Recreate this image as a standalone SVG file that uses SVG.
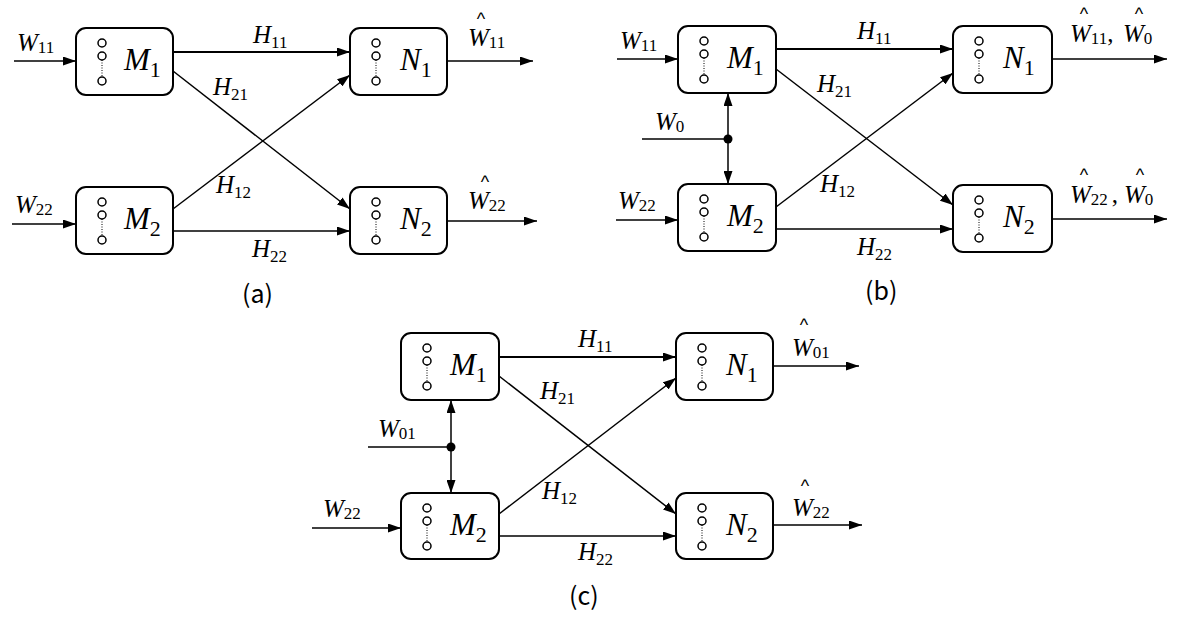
<svg xmlns="http://www.w3.org/2000/svg" width="1193" height="618" viewBox="0 0 1193 618">
<style>
.ln{stroke:#000;stroke-width:1.5;fill:none}
.bx{fill:#fff;stroke:#000;stroke-width:2}
.c{fill:#fff;stroke:#000;stroke-width:1.5}
.dt{stroke:#000;stroke-width:1;stroke-dasharray:1 1.5}
.mt{font-family:"Liberation Serif",serif;font-style:italic;font-size:31px}
.ms{font-style:normal;font-size:22px}
.h{font-family:"Liberation Serif",serif;font-style:italic;font-size:25px}
.hs{font-style:normal;font-size:17px}
.w{font-family:"Liberation Serif",serif;font-style:italic;font-size:25px}
.ws{font-style:normal;font-size:17px}
.hat{font-family:"Liberation Sans",sans-serif;font-style:normal;font-size:18px;text-anchor:middle}
.cap{font-family:"Noto Sans CJK SC","Noto Sans",sans-serif;font-size:25px}
</style>
<defs>
<marker id="ar" markerUnits="userSpaceOnUse" markerWidth="13" markerHeight="9" refX="13" refY="4.5" orient="auto">
<path d="M0,0 L13,4.5 L0,9 z" fill="#000"/>
</marker>
<g id="dots">
<circle class="c" cx="26" cy="15" r="4"/>
<circle class="c" cx="26" cy="28" r="4"/>
<line class="dt" x1="26" y1="32" x2="26" y2="49"/>
<circle class="c" cx="26" cy="53" r="4"/>
</g>
</defs>

<!-- connectors -->
<g id="connectors">
<!-- (a) -->
<line class="ln" x1="14" y1="61" x2="76" y2="61" marker-end="url(#ar)"/>
<line class="ln" x1="12" y1="224" x2="76" y2="224" marker-end="url(#ar)"/>
<line class="ln" x1="173" y1="52" x2="350" y2="52" marker-end="url(#ar)" style="stroke-width:2"/>
<line class="ln" x1="173" y1="71" x2="350" y2="209" marker-end="url(#ar)"/>
<line class="ln" x1="173" y1="209" x2="350" y2="75" marker-end="url(#ar)"/>
<line class="ln" x1="173" y1="231" x2="350" y2="231" marker-end="url(#ar)"/>
<line class="ln" x1="447" y1="61" x2="533" y2="61" marker-end="url(#ar)"/>
<line class="ln" x1="447" y1="221" x2="537" y2="221" marker-end="url(#ar)"/>
<!-- (b) -->
<line class="ln" x1="617" y1="59" x2="678" y2="59" marker-end="url(#ar)"/>
<line class="ln" x1="616" y1="220" x2="678" y2="220" marker-end="url(#ar)"/>
<line class="ln" x1="642" y1="139" x2="728" y2="139"/>
<line class="ln" x1="728" y1="139" x2="728" y2="93" marker-end="url(#ar)"/>
<line class="ln" x1="728" y1="139" x2="728" y2="184" marker-end="url(#ar)"/>
<circle cx="728" cy="139" r="4.5" fill="#000"/>
<line class="ln" x1="776" y1="49" x2="953" y2="49" marker-end="url(#ar)" style="stroke-width:2"/>
<line class="ln" x1="776" y1="69" x2="953" y2="205" marker-end="url(#ar)"/>
<line class="ln" x1="776" y1="207" x2="953" y2="73" marker-end="url(#ar)"/>
<line class="ln" x1="776" y1="229" x2="953" y2="229" marker-end="url(#ar)"/>
<line class="ln" x1="1052" y1="59" x2="1167" y2="59" marker-end="url(#ar)"/>
<line class="ln" x1="1052" y1="219" x2="1167" y2="219" marker-end="url(#ar)"/>
<!-- (c) -->
<line class="ln" x1="312" y1="528" x2="401" y2="528" marker-end="url(#ar)"/>
<line class="ln" x1="368" y1="447" x2="451" y2="447"/>
<line class="ln" x1="451" y1="447" x2="451" y2="400" marker-end="url(#ar)"/>
<line class="ln" x1="451" y1="447" x2="451" y2="493" marker-end="url(#ar)"/>
<circle cx="451" cy="447" r="4.5" fill="#000"/>
<line class="ln" x1="499" y1="357" x2="676" y2="357" marker-end="url(#ar)" style="stroke-width:2"/>
<line class="ln" x1="499" y1="376" x2="676" y2="514" marker-end="url(#ar)"/>
<line class="ln" x1="499" y1="514" x2="676" y2="378" marker-end="url(#ar)"/>
<line class="ln" x1="499" y1="536" x2="676" y2="536" marker-end="url(#ar)"/>
<line class="ln" x1="773" y1="366" x2="859" y2="366" marker-end="url(#ar)"/>
<line class="ln" x1="773" y1="525" x2="862" y2="525" marker-end="url(#ar)"/>
</g>

<!-- (a) nodes -->
<g id="a-M1"><rect class="bx" x="76" y="28" width="97" height="67" rx="10"/><use href="#dots" x="76" y="28"/><text class="mt" x="124" y="70">M<tspan class="ms" dy="7">1</tspan></text></g>
<g id="a-M2"><rect class="bx" x="76" y="187" width="97" height="67" rx="10"/><use href="#dots" x="76" y="187"/><text class="mt" x="124" y="229">M<tspan class="ms" dy="7">2</tspan></text></g>
<g id="a-N1"><rect class="bx" x="350" y="28" width="97" height="67" rx="10"/><use href="#dots" x="350" y="28"/><text class="mt" x="400" y="70">N<tspan class="ms" dy="7">1</tspan></text></g>
<g id="a-N2"><rect class="bx" x="350" y="187" width="97" height="67" rx="10"/><use href="#dots" x="350" y="187"/><text class="mt" x="400" y="229">N<tspan class="ms" dy="7">2</tspan></text></g>

<!-- (b) nodes -->
<g id="b-M1"><rect class="bx" x="678" y="26" width="98" height="67" rx="10"/><use href="#dots" x="678" y="26"/><text class="mt" x="727" y="68">M<tspan class="ms" dy="7">1</tspan></text></g>
<g id="b-M2"><rect class="bx" x="678" y="184" width="98" height="67" rx="10"/><use href="#dots" x="678" y="184"/><text class="mt" x="727" y="226">M<tspan class="ms" dy="7">2</tspan></text></g>
<g id="b-N1"><rect class="bx" x="953" y="26" width="99" height="67" rx="10"/><use href="#dots" x="953" y="26"/><text class="mt" x="1003" y="68">N<tspan class="ms" dy="7">1</tspan></text></g>
<g id="b-N2"><rect class="bx" x="953" y="185" width="99" height="67" rx="10"/><use href="#dots" x="953" y="185"/><text class="mt" x="1003" y="227">N<tspan class="ms" dy="7">2</tspan></text></g>

<!-- (c) nodes -->
<g id="c-M1"><rect class="bx" x="401" y="333" width="98" height="67" rx="10"/><use href="#dots" x="401" y="333"/><text class="mt" x="450" y="375">M<tspan class="ms" dy="7">1</tspan></text></g>
<g id="c-M2"><rect class="bx" x="401" y="493" width="98" height="66" rx="10"/><use href="#dots" x="401" y="493"/><text class="mt" x="450" y="535">M<tspan class="ms" dy="7">2</tspan></text></g>
<g id="c-N1"><rect class="bx" x="676" y="333" width="97" height="67" rx="10"/><use href="#dots" x="676" y="333"/><text class="mt" x="726" y="375">N<tspan class="ms" dy="7">1</tspan></text></g>
<g id="c-N2"><rect class="bx" x="676" y="493" width="97" height="66" rx="10"/><use href="#dots" x="676" y="493"/><text class="mt" x="726" y="535">N<tspan class="ms" dy="7">2</tspan></text></g>

<!-- labels (a) -->
<g id="labels-a">
<text class="w" x="17" y="51">W<tspan class="ws" dy="2">11</tspan></text>
<text class="w" x="15" y="213">W<tspan class="ws" dy="2">22</tspan></text>
<text class="w"><tspan class="hat" x="481" y="25">^</tspan><tspan x="468" y="46">W</tspan><tspan class="ws" dy="2">11</tspan></text>
<text class="w"><tspan class="hat" x="485" y="188">^</tspan><tspan x="468" y="209">W</tspan><tspan class="ws" dy="2">22</tspan></text>
<text class="h" x="253" y="43">H<tspan class="hs" dy="5">11</tspan></text>
<text class="h" x="213" y="95">H<tspan class="hs" dy="5">21</tspan></text>
<text class="h" x="216" y="193">H<tspan class="hs" dy="5">12</tspan></text>
<text class="h" x="252" y="257">H<tspan class="hs" dy="5">22</tspan></text>
<text class="cap" x="242" y="303">(a)</text>
</g>

<!-- labels (b) -->
<g id="labels-b">
<text class="w" x="620" y="49">W<tspan class="ws" dy="2">11</tspan></text>
<text class="w" x="618" y="209">W<tspan class="ws" dy="2">22</tspan></text>
<text class="w" x="655" y="130">W<tspan class="ws" dy="2">0</tspan></text>
<text class="w"><tspan class="hat" x="1084" y="20">^</tspan><tspan class="hat" x="1139" y="20">^</tspan><tspan x="1070" y="42">W</tspan><tspan class="ws" dy="2">11</tspan><tspan dy="-2" style="font-style:normal">,</tspan><tspan x="1123">W</tspan><tspan class="ws" dy="2">0</tspan></text>
<text class="w"><tspan class="hat" x="1084" y="181">^</tspan><tspan class="hat" x="1140" y="181">^</tspan><tspan x="1070" y="203">W</tspan><tspan class="ws" dy="2">22</tspan><tspan dy="-2" dx="4" style="font-style:normal">,</tspan><tspan x="1124">W</tspan><tspan class="ws" dy="2">0</tspan></text>
<text class="h" x="857" y="39">H<tspan class="hs" dy="5">11</tspan></text>
<text class="h" x="817" y="92">H<tspan class="hs" dy="5">21</tspan></text>
<text class="h" x="820" y="192">H<tspan class="hs" dy="5">12</tspan></text>
<text class="h" x="857" y="255">H<tspan class="hs" dy="5">22</tspan></text>
<text class="cap" x="865" y="300">(b)</text>
</g>

<!-- labels (c) -->
<g id="labels-c">
<text class="w" x="323" y="517">W<tspan class="ws" dy="2">22</tspan></text>
<text class="w" x="378" y="437">W<tspan class="ws" dy="2">01</tspan></text>
<text class="w"><tspan class="hat" x="804" y="331">^</tspan><tspan x="792" y="356">W</tspan><tspan class="ws" dy="2">01</tspan></text>
<text class="w"><tspan class="hat" x="805" y="492">^</tspan><tspan x="792" y="516">W</tspan><tspan class="ws" dy="2">22</tspan></text>
<text class="h" x="578" y="347">H<tspan class="hs" dy="5">11</tspan></text>
<text class="h" x="540" y="399">H<tspan class="hs" dy="5">21</tspan></text>
<text class="h" x="542" y="499">H<tspan class="hs" dy="5">12</tspan></text>
<text class="h" x="578" y="560">H<tspan class="hs" dy="5">22</tspan></text>
<text class="cap" x="569" y="605">(c)</text>
</g>
</svg>
